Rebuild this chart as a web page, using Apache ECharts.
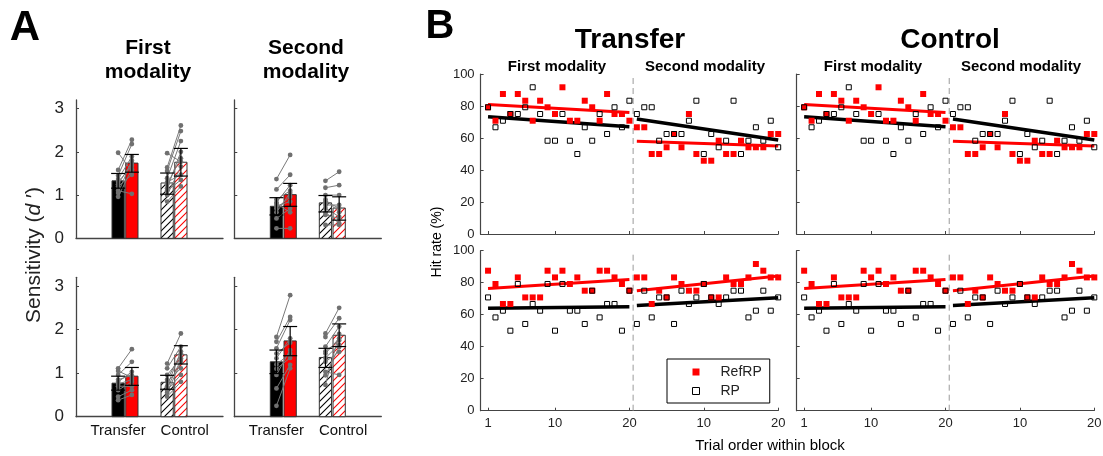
<!DOCTYPE html>
<html>
<head>
<meta charset="utf-8">
<script src="https://cdn.jsdelivr.net/npm/echarts@6/dist/echarts.min.js"></script>
<style>
html, body { margin: 0; padding: 0; background: #fff; }
#main { width: 1103px; height: 456px; }
</style>
</head>
<body>
<div id="main"></div>
<script>
// ---------- data: panel A (sensitivity d') ----------
var groups = ['Transfer', 'Control'];
// top row, first modality  [Transfer, Control]
var a1MeanRP = [1.33, 1.28];
var a1MeanRef = [1.74, 1.76];
var a1ErrRP = [[1.16, 1.50], [1.02, 1.51]];
var a1ErrRef = [[1.53, 1.94], [1.44, 2.08]];
var a1SubjRP_T = [1.98, 1.58, 1.45, 1.37, 1.30, 1.20, 1.10, 1.05, 0.96, 1.25];
var a1SubjRef_T = [1.55, 2.28, 2.18, 1.89, 1.68, 1.47, 1.03, 1.80, 1.60, 1.75];
var a1SubjRP_C = [1.97, 1.64, 1.56, 1.39, 1.16, 1.00, 1.30, 1.10, 0.85, 1.25];
var a1SubjRef_C = [1.77, 2.61, 2.48, 2.25, 2.00, 1.66, 1.47, 1.35, 1.20, 1.85];
// top row, second modality
var a2MeanRP = [0.74, 0.82];
var a2MeanRef = [1.01, 0.70];
var a2ErrRP = [[0.54, 0.94], [0.61, 0.99]];
var a2ErrRef = [[0.74, 1.27], [0.42, 0.96]];
var a2SubjRP_T = [1.37, 1.13, 0.83, 0.69, 0.46, 0.23, 0.90, 0.75, 0.60, 0.80];
var a2SubjRef_T = [1.93, 1.47, 1.23, 0.96, 0.69, 0.23, 1.10, 0.85, 1.05, 0.60];
var a2SubjRP_C = [1.33, 1.17, 1.00, 0.77, 0.54, 0.31, 0.90, 0.70, 0.60, 0.85];
var a2SubjRef_C = [1.54, 1.23, 1.00, 0.77, 0.46, 0.31, 0.60, 0.50, 0.35, 0.70];
// bottom row, first modality
var a3MeanRP = [0.77, 0.79];
var a3MeanRef = [0.93, 1.42];
var a3ErrRP = [[0.61, 0.93], [0.63, 0.95]];
var a3ErrRef = [[0.72, 1.13], [1.21, 1.63]];
var a3SubjRP_T = [1.11, 0.96, 0.80, 0.61, 0.46, 0.38, 1.05, 0.85, 0.70, 0.75];
var a3SubjRef_T = [1.55, 1.26, 1.03, 0.80, 0.61, 0.50, 0.90, 0.95, 0.70, 0.85];
var a3SubjRP_C = [1.22, 1.11, 0.96, 0.80, 0.61, 0.46, 0.70, 0.85, 0.55, 0.65];
var a3SubjRef_C = [1.91, 1.61, 1.34, 1.11, 0.96, 0.80, 1.50, 1.45, 1.25, 1.30];
// bottom row, second modality
var a4MeanRP = [1.26, 1.36];
var a4MeanRef = [1.74, 1.87];
var a4ErrRP = [[0.99, 1.53], [1.13, 1.57]];
var a4ErrRef = [[1.40, 2.07], [1.61, 2.13]];
var a4SubjRP_T = [1.83, 1.72, 1.57, 1.34, 0.96, 0.65, 0.25, 1.45, 1.20, 1.10];
var a4SubjRef_T = [2.79, 2.29, 2.22, 1.80, 1.53, 1.19, 1.11, 1.70, 1.45, 1.35];
var a4SubjRP_C = [1.91, 1.83, 1.61, 1.45, 1.26, 1.03, 0.73, 1.50, 1.35, 0.95];
var a4SubjRef_C = [2.50, 2.26, 2.07, 1.80, 1.49, 0.96, 1.90, 1.75, 1.65, 1.60];
var sensTicks = [0, 1, 2, 3];

// ---------- data: panel B (hit rate %, trials 1-20 per block) ----------
var trials = [1, 2, 3, 4, 5, 6, 7, 8, 9, 10, 11, 12, 13, 14, 15, 16, 17, 18, 19, 20];
var hitTicks = [1, 10, 20, 30, 40];
// top row
var hitTopRef1 = [79.2, 70.8, 87.5, 75, 87.5, 83.3, 70.8, 83.3, 79.2, 75, 91.7, 70.8, 70.8, 83.3, 79.2, 70.8, 87.5, 75, 75, 70.8];
var hitTopRP1 = [79.2, 66.7, 70.8, 75, 75, 79.2, 91.7, 75, 58.3, 58.3, 75, 58.3, 50, 66.7, 58.3, 75, 62.5, 79.2, 66.7, 83.3];
var hitTopRef2 = [66.7, 66.7, 50, 50, 54.2, 62.5, 54.2, 75, 50, 45.8, 45.8, 58.3, 50, 50, 58.3, 54.2, 54.2, 54.2, 62.5, 62.5];
var hitTopRP2 = [75, 79.2, 79.2, 58.3, 62.5, 62.5, 62.5, 70.8, 83.3, 50, 62.5, 54.2, 58.3, 83.3, 50, 58.3, 66.7, 58.3, 70.8, 54.2];
// bottom row
var hitBotRef1 = [87.5, 79.2, 66.7, 66.7, 83.3, 70.8, 70.8, 70.8, 87.5, 83.3, 87.5, 79.2, 83.3, 75, 75, 87.5, 87.5, 83.3, 79.2, 75];
var hitBotRP1 = [70.8, 58.3, 62.5, 50, 79.2, 54.2, 66.7, 62.5, 79.2, 50, 79.2, 62.5, 62.5, 54.2, 75, 58.3, 66.7, 66.7, 50, 75];
var hitBotRef2 = [83.3, 83.3, 66.7, 75, 70.8, 83.3, 79.2, 75, 75, 79.2, 70.8, 70.8, 83.3, 79.2, 79.2, 83.3, 91.7, 87.5, 83.3, 83.3];
var hitBotRP2 = [54.2, 75, 58.3, 70.8, 70.8, 54.2, 75, 66.7, 70.8, 79.2, 70.8, 66.7, 70.8, 75, 75, 58.3, 62.5, 75, 62.5, 70.8];
// fitted lines: value at trial 1 and trial 20
var fitTopRef1 = [81, 76], fitTopRP1 = [73.3, 67];
var fitTopRef2 = [57.9, 55], fitTopRP2 = [71.9, 58.7];
var fitBotRef1 = [76.3, 82], fitBotRP1 = [64, 65];
var fitBotRef2 = [75, 84.2], fitBotRP2 = [65.8, 70.6];

// ---------- layout ----------
var FONT = '"Liberation Sans", Arial, Helvetica, sans-serif';
var groupPos = [1, 2];
var labelPos = [0.86, 2.22];
var condOffset = [-0.14, 0.14];
var barHalf = 0.125;
var blockLen = 20;
var blockSplit = 20.5;
var axisCol = '#444';

function hatch(color) {
  var c = document.createElement('canvas');
  c.width = 7; c.height = 7;
  var ctx = c.getContext('2d');
  ctx.fillStyle = '#fff';
  ctx.fillRect(0, 0, 7, 7);
  ctx.strokeStyle = color;
  ctx.lineWidth = 1.1;
  ctx.beginPath();
  ctx.moveTo(0, 7); ctx.lineTo(7, 0);
  ctx.moveTo(-1, 1); ctx.lineTo(1, -1);
  ctx.moveTo(6, 8); ctx.lineTo(8, 6);
  ctx.stroke();
  return { image: c, repeat: 'repeat' };
}
var barFill = [['#000', '#f00'], [hatch('#000'), hatch('#f00')]];

var grids = [
  { left: 76, top: 100, width: 147, height: 138.3 },
  { left: 234.3, top: 100, width: 147, height: 138.3 },
  { left: 76, top: 277.3, width: 147, height: 139.4 },
  { left: 234.3, top: 277.3, width: 147, height: 139.4 },
  { left: 480.6, top: 74, width: 297.6, height: 160 },
  { left: 796.7, top: 74, width: 297.6, height: 160 },
  { left: 480.6, top: 250.7, width: 297.6, height: 160 },
  { left: 796.7, top: 250.7, width: 297.6, height: 160 }
];
grids.forEach(function (g) { g.outerBoundsMode = 'none'; });

var xAxes = [], yAxes = [];
function sensAxes(gi, showX, showY) {
  xAxes.push({
    gridIndex: gi, type: 'value', min: 0, max: 3,
    axisLine: { show: true, lineStyle: { color: axisCol, width: 1.3 } },
    axisTick: { show: false }, splitLine: { show: false },
    axisLabel: {
      show: showX, customValues: labelPos, margin: 7,
      fontSize: 15, color: '#111', fontFamily: FONT,
      formatter: function (v) { return v < 1.5 ? groups[0] : groups[1]; }
    }
  });
  yAxes.push({
    gridIndex: gi, type: 'value', min: 0, max: 3.2,
    axisLine: { show: true, lineStyle: { color: axisCol, width: 1.3 } },
    axisTick: { show: true, inside: true, length: 3, customValues: sensTicks, lineStyle: { color: axisCol } },
    splitLine: { show: false },
    axisLabel: { show: showY, customValues: sensTicks, margin: 12, fontSize: 17, color: '#222', fontFamily: FONT }
  });
}
function hitAxes(gi, showX, showY) {
  xAxes.push({
    gridIndex: gi, type: 'value', min: 0, max: 40,
    axisLine: { show: true, lineStyle: { color: axisCol, width: 1.2 } },
    axisTick: { show: true, inside: true, length: 3, customValues: hitTicks, lineStyle: { color: axisCol } },
    splitLine: { show: false },
    axisLabel: {
      show: showX, customValues: hitTicks, margin: 6, fontSize: 13, color: '#222', fontFamily: FONT,
      formatter: function (v) { return v > blockLen ? String(v - blockLen) : String(v); }
    }
  });
  yAxes.push({
    gridIndex: gi, type: 'value', min: 0, max: 100, interval: 20,
    axisLine: { show: true, lineStyle: { color: axisCol, width: 1.2 } },
    axisTick: { show: true, inside: true, length: 3, lineStyle: { color: axisCol } },
    splitLine: { show: false },
    axisLabel: { show: showY, margin: 6, fontSize: 13, color: '#222', fontFamily: FONT }
  });
}
sensAxes(0, false, true);
sensAxes(1, false, false);
sensAxes(2, true, true);
sensAxes(3, true, false);
hitAxes(4, false, true);
hitAxes(5, false, false);
hitAxes(6, true, true);
hitAxes(7, true, false);

var series = [];

// bars, subject lines and error bars for one sensitivity panel
function sensPanel(gi, meanRP, meanRef, errRP, errRef, subj) {
  var bars = [], errs = [];
  for (var g = 0; g < 2; g++) {
    bars.push([g, 0, meanRP[g]], [g, 1, meanRef[g]]);
    errs.push([g, 0, errRP[g][0], errRP[g][1]], [g, 1, errRef[g][0], errRef[g][1]]);
  }
  series.push({
    type: 'custom', xAxisIndex: gi, yAxisIndex: gi, silent: true, z: 2, data: bars,
    renderItem: function (params, api) {
      var g = api.value(0), c = api.value(1);
      var xc = groupPos[g] + condOffset[c];
      var p0 = api.coord([xc - barHalf, api.value(2)]);
      var p1 = api.coord([xc + barHalf, 0]);
      return {
        type: 'rect',
        shape: { x: p0[0], y: p0[1], width: p1[0] - p0[0], height: p1[1] - p0[1] },
        style: { fill: barFill[g][c], stroke: '#333', lineWidth: 1 }
      };
    }
  });
  for (var k = 0; k < 2; k++) {
    var rp = subj[k][0], ref = subj[k][1];
    var pairs = rp.map(function (v, i) { return [k, v, ref[i]]; });
    series.push({
      type: 'custom', xAxisIndex: gi, yAxisIndex: gi, silent: true, z: 3, data: pairs,
      renderItem: function (params, api) {
        var g = api.value(0);
        var a = api.coord([groupPos[g] + condOffset[0], api.value(1)]);
        var b = api.coord([groupPos[g] + condOffset[1], api.value(2)]);
        return {
          type: 'group', children: [
            { type: 'line', shape: { x1: a[0], y1: a[1], x2: b[0], y2: b[1] }, style: { stroke: '#7a7a7a', lineWidth: 1 } },
            { type: 'circle', shape: { cx: a[0], cy: a[1], r: 2.4 }, style: { fill: '#707070' } },
            { type: 'circle', shape: { cx: b[0], cy: b[1], r: 2.4 }, style: { fill: '#707070' } }
          ]
        };
      }
    });
  }
  series.push({
    type: 'custom', xAxisIndex: gi, yAxisIndex: gi, silent: true, z: 4, data: errs,
    renderItem: function (params, api) {
      var xc = groupPos[api.value(0)] + condOffset[api.value(1)];
      var lo = api.coord([xc, api.value(2)]);
      var hi = api.coord([xc, api.value(3)]);
      var st = { stroke: '#000', lineWidth: 1.2 };
      return {
        type: 'group', children: [
          { type: 'line', shape: { x1: lo[0], y1: lo[1], x2: hi[0], y2: hi[1] }, style: st },
          { type: 'line', shape: { x1: lo[0] - 7, y1: lo[1], x2: lo[0] + 7, y2: lo[1] }, style: st },
          { type: 'line', shape: { x1: hi[0] - 7, y1: hi[1], x2: hi[0] + 7, y2: hi[1] }, style: st }
        ]
      };
    }
  });
}
sensPanel(0, a1MeanRP, a1MeanRef, a1ErrRP, a1ErrRef, [[a1SubjRP_T, a1SubjRef_T], [a1SubjRP_C, a1SubjRef_C]]);
sensPanel(1, a2MeanRP, a2MeanRef, a2ErrRP, a2ErrRef, [[a2SubjRP_T, a2SubjRef_T], [a2SubjRP_C, a2SubjRef_C]]);
sensPanel(2, a3MeanRP, a3MeanRef, a3ErrRP, a3ErrRef, [[a3SubjRP_T, a3SubjRef_T], [a3SubjRP_C, a3SubjRef_C]]);
sensPanel(3, a4MeanRP, a4MeanRef, a4ErrRP, a4ErrRef, [[a4SubjRP_T, a4SubjRef_T], [a4SubjRP_C, a4SubjRef_C]]);

// hit-rate panel: two blocks side by side, second block shifted by blockLen
function pts(b1, b2) {
  var out = [];
  b1.forEach(function (v, i) { out.push([trials[i], v]); });
  b2.forEach(function (v, i) { out.push([trials[i] + blockLen, v]); });
  return out;
}
function fitLine(gi, fit, block, color, w) {
  var x0 = trials[0] + block * blockLen, x1 = trials[trials.length - 1] + block * blockLen;
  series.push({
    name: 'fit', type: 'line', xAxisIndex: gi, yAxisIndex: gi, silent: true, z: 2,
    symbol: 'none', data: [[x0, fit[0]], [x1, fit[1]]],
    lineStyle: { color: color, width: w }
  });
}
function hitPanel(gi, ref1, rp1, ref2, rp2, fRef1, fRP1, fRef2, fRP2) {
  series.push({
    name: 'split', type: 'line', xAxisIndex: gi, yAxisIndex: gi, silent: true, z: 1,
    symbol: 'none', data: [[blockSplit, 0], [blockSplit, 100]],
    lineStyle: { color: '#9a9a9a', width: 1, type: [6, 4] }
  });
  fitLine(gi, fRef1, 0, '#f00', 3);
  fitLine(gi, fRP1, 0, '#000', 3.5);
  fitLine(gi, fRef2, 1, '#f00', 3);
  fitLine(gi, fRP2, 1, '#000', 3.5);
  series.push({
    name: 'RefRP', type: 'scatter', xAxisIndex: gi, yAxisIndex: gi, silent: true, z: 3,
    symbol: 'rect', symbolSize: 6, data: pts(ref1, ref2),
    itemStyle: { color: '#f00', opacity: 1 }
  });
  series.push({
    name: 'RP', type: 'scatter', xAxisIndex: gi, yAxisIndex: gi, silent: true, z: 4,
    symbol: 'rect', symbolSize: 5, data: pts(rp1, rp2),
    itemStyle: { color: 'rgba(255,255,255,0)', borderColor: '#000', borderWidth: 1, opacity: 1 }
  });
}
// Transfer and Control panels show the same values in the figure
hitPanel(4, hitTopRef1, hitTopRP1, hitTopRef2, hitTopRP2, fitTopRef1, fitTopRP1, fitTopRef2, fitTopRP2);
hitPanel(5, hitTopRef1, hitTopRP1, hitTopRef2, hitTopRP2, fitTopRef1, fitTopRP1, fitTopRef2, fitTopRP2);
hitPanel(6, hitBotRef1, hitBotRP1, hitBotRef2, hitBotRP2, fitBotRef1, fitBotRP1, fitBotRef2, fitBotRP2);
hitPanel(7, hitBotRef1, hitBotRP1, hitBotRef2, hitBotRP2, fitBotRef1, fitBotRP1, fitBotRef2, fitBotRP2);

function txt(s, x, y, size, bold, rot) {
  return {
    type: 'text', x: x, y: y, rotation: rot || 0, silent: true,
    style: {
      text: s, fontSize: size, fontWeight: bold ? 'bold' : 'normal', fontFamily: FONT,
      fill: '#000', textAlign: 'center', textVerticalAlign: 'middle'
    }
  };
}

var graphics = [
  txt('A', 25, 28, 42, true),
  txt('First', 148, 48, 21, true),
  txt('modality', 148, 72, 21, true),
  txt('Second', 306, 48, 21, true),
  txt('modality', 306, 72, 21, true),
  {
    type: 'text', x: 34, y: 255, rotation: Math.PI / 2, silent: true,
    style: {
      text: '{n|Sensitivity (}{i|d}{n| \u2032)}', textAlign: 'center', textVerticalAlign: 'middle',
      rich: {
        n: { fontSize: 21, fontFamily: FONT, fill: '#222' },
        i: { fontSize: 21, fontFamily: FONT, fontStyle: 'italic', fill: '#222' }
      }
    }
  },
  txt('B', 440, 27, 40, true),
  txt('Transfer', 630, 40, 28, true),
  txt('Control', 950, 40, 28, true),
  txt('First modality', 557, 67, 15, true),
  txt('Second modality', 705, 67, 15, true),
  txt('First modality', 873, 67, 15, true),
  txt('Second modality', 1021, 67, 15, true),
  txt('Hit rate (%)', 437, 242, 14, false, Math.PI / 2),
  txt('Trial order within block', 770, 446, 15, false)
];

var chart = echarts.init(document.getElementById('main'));
chart.setOption({
  animation: false,
  backgroundColor: '#fff',
  textStyle: { fontFamily: FONT },
  grid: grids,
  xAxis: xAxes,
  yAxis: yAxes,
  legend: {
    orient: 'vertical', left: 667, top: 359,
    padding: [6, 8, 5, 25], itemGap: 5, itemWidth: 7, itemHeight: 7,
    borderColor: '#000', borderWidth: 1, backgroundColor: '#fff',
    selectedMode: false,
    textStyle: { fontSize: 14, color: '#222', fontFamily: FONT, padding: [0, 0, 0, 16] },
    data: [
      { name: 'RefRP', icon: 'rect', itemStyle: { color: '#f00', borderWidth: 0 } },
      { name: 'RP', icon: 'rect', itemStyle: { color: '#fff', borderColor: '#000', borderWidth: 1 } }
    ]
  },
  graphic: graphics,
  series: series
});
</script>
</body>
</html>
